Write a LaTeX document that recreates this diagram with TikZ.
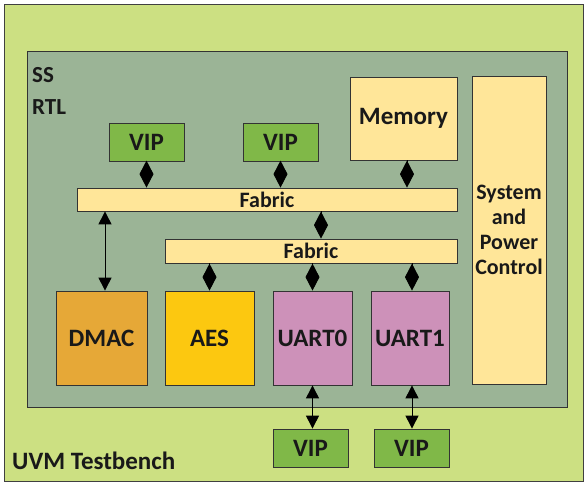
\documentclass[tikz,border=0pt]{standalone}
\usepackage{fontspec}
\setmainfont{Carlito}
\usetikzlibrary{arrows.meta}

\definecolor{tbgreen}{RGB}{204,224,130}
\definecolor{rtlgray}{RGB}{155,180,150}
\definecolor{vipgreen}{RGB}{128,184,72}
\definecolor{fabyellow}{RGB}{255,230,153}
\definecolor{dmacorange}{RGB}{230,168,55}
\definecolor{aesyellow}{RGB}{252,200,16}
\definecolor{uartpink}{RGB}{205,145,185}

\tikzset{
	blk/.style={draw=black!80, line width=0.8pt, inner sep=0pt, text=black!90,
		font=\bfseries\fontsize{25}{29}\selectfont},
	vipbox/.style={blk, fill=vipgreen, minimum width=75pt, minimum height=38pt},
	fabbox/.style={blk, fill=fabyellow, minimum height=23pt,
		font=\bfseries\fontsize{22}{26}\selectfont},
	ipbox/.style={blk, minimum height=94pt},
	lbl/.style={anchor=west, inner sep=0pt, text=black!90,
		font=\bfseries\fontsize{23}{28}\selectfont},
	dlink/.style={line width=1pt, -{Diamond[length=27pt,width=14pt]}},
	alink/.style={line width=1pt,
		{Triangle[length=13pt,width=13pt]}-{Triangle[length=13pt,width=13pt]}}
}

\begin{document}
\begin{tikzpicture}[x=1pt,y=-1pt]
	\useasboundingbox (0,0) rectangle (587,485);
	
	% testbench and subsystem
	\node[draw=black!75, line width=0.8pt, fill=tbgreen, minimum width=579pt,
		minimum height=477pt] (testbench) at (293.5,242.5) {};
	\node[draw=black!80, line width=0.8pt, fill=rtlgray, minimum width=540pt,
		minimum height=356pt] (rtl) at (297,229) {};
	\node[lbl, font=\bfseries\fontsize{25}{29}\selectfont] (tblabel) at (12,461) {UVM Testbench};
	\node[lbl] (sslabel) at (32,75) {SS};
	\node[lbl] (rtllabel) at (32,107) {RTL};
	
	% top row
	\node[vipbox] (vipa) at (146.5,142) {VIP};
	\node[vipbox] (vipb) at (280.5,142) {VIP};
	\node[blk, fill=fabyellow, minimum width=107pt, minimum height=83pt] (memory) at (403.5,118.5) {Memory};
	\node[blk, fill=fabyellow, minimum width=74pt, minimum height=308pt, align=center,
		font=\bfseries\fontsize{22}{25}\selectfont] (spc) at (509,230) {System\\and\\Power\\Control};
	
	% fabrics
	\node[fabbox, minimum width=380pt] (faba) at (267,199.5) {Fabric};
	\node[fabbox, minimum width=292pt, minimum height=24pt] (fabb) at (311,251) {Fabric};
	
	% blocks
	\node[ipbox, fill=dmacorange, minimum width=91pt] (dmac) at (101.5,338) {DMAC};
	\node[ipbox, fill=aesyellow, minimum width=89pt] (aes) at (209.5,338) {AES};
	\node[ipbox, fill=uartpink, minimum width=79pt] (uarta) at (312.5,338) {UART0};
	\node[ipbox, fill=uartpink, minimum width=78pt] (uartb) at (410,338) {UART1};
	
	% external VIPs
	\node[vipbox] (vipc) at (310.5,448) {VIP};
	\node[vipbox] (vipd) at (411.5,448) {VIP};
	
	% connections
	\draw[dlink] (vipa.south) -- (vipa.south |- faba.north);
	\draw[dlink] (vipb.south) -- (vipb.south |- faba.north);
	\draw[dlink] ([xshift=3.5pt]memory.south) -- ([xshift=3.5pt]memory.south |- faba.north);
	\draw[dlink] ([xshift=10pt]fabb.north |- faba.south) -- ([xshift=10pt]fabb.north);
	\draw[dlink] (aes.north |- fabb.south) -- (aes.north);
	\draw[dlink] (uarta.north |- fabb.south) -- (uarta.north);
	\draw[dlink] ([xshift=2pt]uartb.north |- fabb.south) -- ([xshift=2pt]uartb.north);
	\draw[alink] ([xshift=3.5pt]dmac.north |- faba.south) -- ([xshift=3.5pt]dmac.north);
	\draw[alink] (uarta.south) -- (uarta.south |- vipc.north);
	\draw[alink] ([xshift=2pt]uartb.south) -- ([xshift=2pt]uartb.south |- vipd.north);
\end{tikzpicture}
\end{document}
